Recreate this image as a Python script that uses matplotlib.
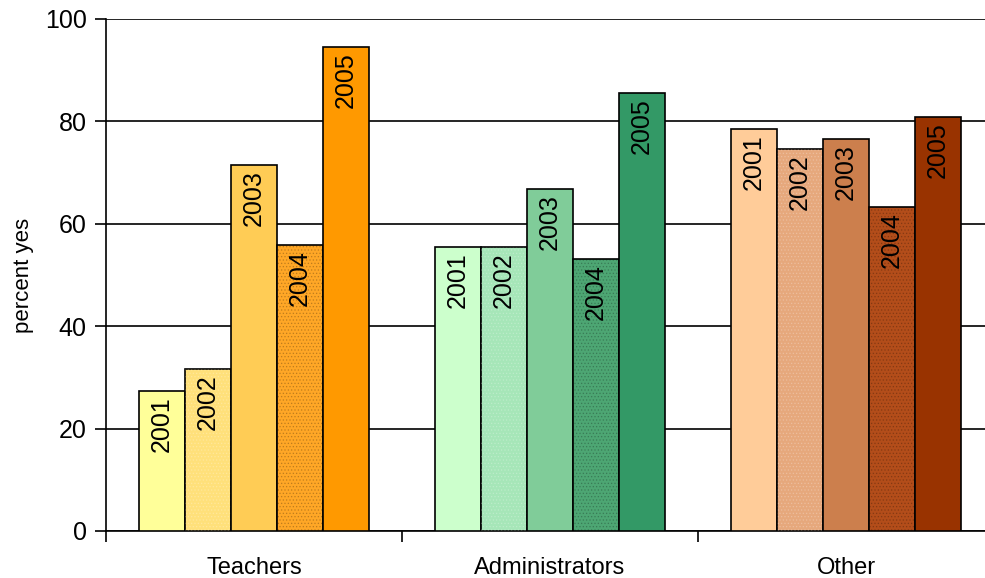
import numpy as np
import matplotlib.pyplot as plt

plt.rcParams['font.family'] = ['Liberation Sans', 'DejaVu Sans']
plt.rcParams['hatch.linewidth'] = 0.6

groups = ['Teachers', 'Administrators', 'Other']
years = ['2001', '2002', '2003', '2004', '2005']

teachers = [27.3, 31.6, 71.5, 55.9, 94.5]
administrators = [55.5, 55.5, 66.8, 53.1, 85.5]
other = [78.5, 74.6, 76.6, 63.3, 80.9]

teacher_colors = ['#FFFF99', '#FFE07A', '#FFCC55', '#FFA726', '#FF9900']
admin_colors = ['#CCFFCC', '#A6E6B8', '#80CC99', '#4DA673', '#339966']
other_colors = ['#FFCC99', '#E6A87C', '#CC7F4D', '#B34D1A', '#993300']
# textured years get a light dotted overlay
texture = [None, '#ffffff', None, '#000000', None]

series = [teachers, administrators, other]
palettes = [teacher_colors, admin_colors, other_colors]

fig = plt.figure(figsize=(9.85, 5.78), dpi=100)
ax = fig.add_axes([106 / 985, 1 - 531 / 578, 888 / 985, 512 / 578])

bar_w = 0.155
offsets = (np.arange(5) - 2) * bar_w

for gi, (vals, cols) in enumerate(zip(series, palettes)):
    for yi, v in enumerate(vals):
        x = gi + 0.5 + offsets[yi]
        ax.bar(x, v, bar_w, color=cols[yi], edgecolor='black', linewidth=1.2, zorder=3)
        if texture[yi] is not None:
            ax.bar(x, v, bar_w, fill=False, hatch='.....', edgecolor=texture[yi],
                   linewidth=0, alpha=0.2, zorder=3)
        ax.text(x, v - 1.0, years[yi], rotation=90, ha='center', va='top',
                fontsize=18, zorder=4)

ax.set_xlim(0, 3)
ax.set_ylim(0, 100)
ax.set_yticks(range(0, 101, 20))
ax.yaxis.grid(True, color='black', linewidth=1.2, zorder=0)
ax.set_axisbelow(True)

ax.set_xticks([0, 1, 2, 3])
ax.set_xticklabels([])
ax.set_xticks([0.5, 1.5, 2.5], minor=True)
ax.set_xticklabels(groups, minor=True, fontsize=17)
ax.tick_params(axis='x', which='minor', length=0, pad=19)
ax.tick_params(axis='x', which='major', length=8, width=1.2, direction='out')
ax.tick_params(axis='y', length=8, width=1.2, direction='out', labelsize=18, pad=6)

ax.set_ylabel('percent yes', fontsize=16, labelpad=8)

for side in ['top', 'right']:
    ax.spines[side].set_visible(False)
for side in ['left', 'bottom']:
    ax.spines[side].set_linewidth(1.2)

fig.savefig('out.png', dpi=100)
